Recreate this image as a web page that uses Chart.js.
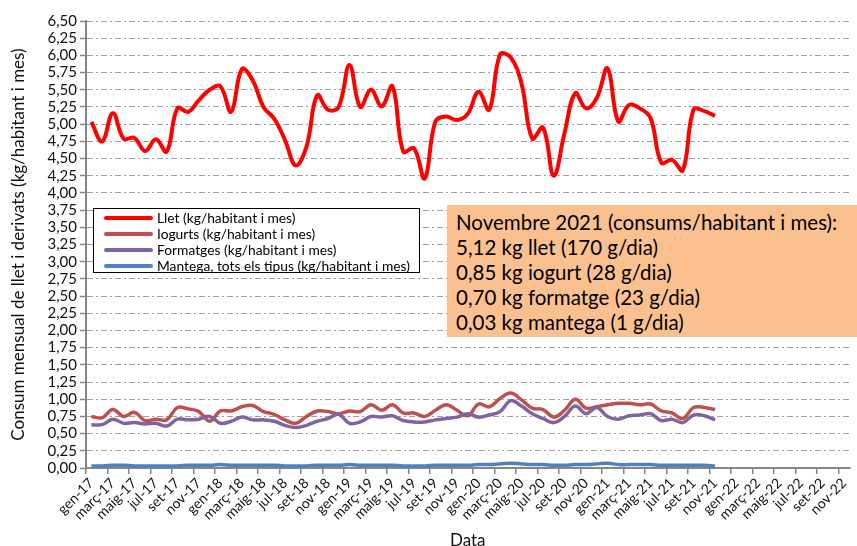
<!DOCTYPE html>
<html>
<head>
<meta charset="utf-8">
<script src="https://cdn.jsdelivr.net/npm/chart.js@4.4.1/dist/chart.umd.min.js"></script>
<style>
  html, body { margin: 0; padding: 0; background: #fff; }
  #wrap { position: relative; width: 857px; height: 546px; font-family: Lato, "Open Sans", sans-serif; }
  #legend {
    position: absolute; left: 93px; top: 208px; width: 325px; height: 62px;
    border: 1px solid #000; background: #fff; font-size: 13.8px; color: #000;
    padding-top: 1px; box-sizing: content-box;
  }
  #legend .row { height: 16px; line-height: 16px; display: flex; align-items: center; white-space: nowrap; }
  #legend .swatch { width: 49px; height: 3.5px; margin-left: 10px; margin-right: 4px; border-radius: 2px; flex: none; }
  #note {
    position: absolute; left: 447px; top: 205px; width: 410px; height: 132px;
    background: #FAC090; font-size: 20.5px; color: #000; box-sizing: border-box;
    padding: 5px 0 0 9px; line-height: 25px; white-space: nowrap;
  }
</style>
</head>
<body>
<div id="wrap">
  <canvas id="chart" width="857" height="546"></canvas>
  <div id="legend"></div>
  <div id="note"></div>
</div>
<script>
// months gen-17 .. nov-22
const monthNames = ['gen', 'febr', 'març', 'abr', 'maig', 'juny', 'jul', 'ag', 'set', 'oct', 'nov', 'des'];
const years = ['17', '18', '19', '20', '21', '22'];

const llet = [5.03, 4.75, 5.16, 4.79, 4.80, 4.61, 4.78, 4.60, 5.23, 5.18,
  5.35, 5.50, 5.55, 5.18, 5.80, 5.64, 5.25, 5.08, 4.77, 4.40,
  4.67, 5.42, 5.21, 5.25, 5.86, 5.25, 5.50, 5.26, 5.55, 4.60,
  4.65, 4.21, 5.04, 5.11, 5.06, 5.15, 5.47, 5.21, 6.01, 5.97,
  5.59, 4.79, 4.95, 4.25, 4.87, 5.45, 5.23, 5.38, 5.81, 5.04,
  5.28, 5.23, 5.09, 4.44, 4.48, 4.33, 5.21, 5.19, 5.12];

const iogurts = [0.75, 0.73, 0.85, 0.75, 0.81, 0.69, 0.71, 0.70, 0.88, 0.86,
  0.82, 0.68, 0.83, 0.83, 0.89, 0.91, 0.82, 0.78, 0.70, 0.65,
  0.75, 0.83, 0.82, 0.79, 0.83, 0.82, 0.92, 0.84, 0.92, 0.80,
  0.80, 0.75, 0.84, 0.92, 0.84, 0.76, 0.93, 0.89, 1.01, 1.09,
  0.99, 0.87, 0.85, 0.74, 0.84, 1.00, 0.87, 0.89, 0.92, 0.94,
  0.94, 0.92, 0.93, 0.83, 0.80, 0.72, 0.88, 0.88, 0.85];

const formatges = [0.63, 0.63, 0.71, 0.65, 0.66, 0.64, 0.65, 0.61, 0.71, 0.70,
  0.71, 0.75, 0.65, 0.68, 0.74, 0.70, 0.70, 0.68, 0.62, 0.59,
  0.62, 0.68, 0.72, 0.78, 0.65, 0.67, 0.75, 0.74, 0.76, 0.69,
  0.67, 0.67, 0.70, 0.72, 0.74, 0.79, 0.74, 0.77, 0.82, 0.98,
  0.90, 0.79, 0.72, 0.66, 0.75, 0.90, 0.79, 0.88, 0.75, 0.71,
  0.76, 0.77, 0.79, 0.69, 0.71, 0.66, 0.77, 0.76, 0.70];

const mantega = [0.03, 0.03, 0.04, 0.04, 0.03, 0.03, 0.03, 0.03, 0.03, 0.04,
  0.04, 0.04, 0.05, 0.04, 0.04, 0.04, 0.04, 0.04, 0.03, 0.03,
  0.03, 0.04, 0.04, 0.04, 0.05, 0.04, 0.04, 0.04, 0.04, 0.03,
  0.03, 0.03, 0.04, 0.04, 0.04, 0.04, 0.05, 0.05, 0.06, 0.07,
  0.06, 0.05, 0.05, 0.04, 0.04, 0.05, 0.05, 0.06, 0.07, 0.05,
  0.05, 0.05, 0.05, 0.04, 0.04, 0.04, 0.04, 0.04, 0.03];

const seriesNames = [
  'Llet (kg/habitant i mes)',
  'Iogurts (kg/habitant i mes)',
  'Formatges (kg/habitant i mes)',
  'Mantega, tots els tipus (kg/habitant i mes)'
];
const seriesColors = ['#FF0000', '#C0504D', '#8064A2', '#4F81BD'];

const noteLines = [
  'Novembre 2021 (consums/habitant i mes):',
  '5,12 kg llet (170 g/dia)',
  '0,85 kg iogurt (28 g/dia)',
  '0,70 kg formatge (23 g/dia)',
  '0,03 kg mantega (1 g/dia)'
];

// build labels, last one nov-22
const labels = [];
for (const y of years) {
  for (const m of monthNames) labels.push(`${m}-${y}`);
}
labels.pop(); // no des-22

const fmt = v => Number(v).toFixed(2).replace('.', ',');

const mkSet = (i, data, width) => ({
  label: seriesNames[i],
  data,
  borderColor: seriesColors[i],
  backgroundColor: seriesColors[i],
  borderWidth: width,
  pointRadius: 0,
  tension: 0.4,
  fill: false
});

new Chart(document.getElementById('chart'), {
  type: 'line',
  data: {
    labels,
    datasets: [
      mkSet(3, mantega, 3.5),
      mkSet(2, formatges, 3.5),
      mkSet(1, iogurts, 3.5),
      mkSet(0, llet, 4)
    ]
  },
  options: {
    responsive: false,
    animation: false,
    devicePixelRatio: 1,
    layout: { padding: { top: 21, right: 3, left: 0, bottom: 0 } },
    plugins: { legend: { display: false }, tooltip: { enabled: false } },
    scales: {
      x: {
        type: 'category',
        offset: true,
        afterFit: s => { s.height = 78; },
        grid: {
          offset: true,
          drawOnChartArea: false,
          drawTicks: true,
          tickLength: 6,
          lineWidth: 1.5,
          color: ctx => (ctx.index % 2 === 0 ? '#868686' : 'rgba(0,0,0,0)')
        },
        border: { display: true, color: '#868686', width: 2 },
        ticks: {
          autoSkip: false,
          maxRotation: 45,
          minRotation: 45,
          padding: 1,
          color: '#111',
          font: { family: 'Lato', size: 14 },
          callback: (v, i) => (i % 2 === 0 ? labels[i] : '')
        },
        title: {
          display: true,
          text: 'Data',
          color: '#111',
          font: { family: 'Lato', size: 17 },
          padding: { top: 0, bottom: -5 }
        }
      },
      y: {
        min: 0,
        max: 6.5,
        afterFit: s => { s.width = 86; },
        grid: {
          color: '#A0A0A0',
          lineWidth: 1,
          tickLength: 6,
          tickColor: '#868686',
          tickBorderDash: [],
          tickWidth: 1.5
        },
        border: { display: true, color: '#868686', width: 2, dash: [6, 3, 2, 3] },
        ticks: {
          stepSize: 0.25,
          autoSkip: false,
          padding: 3,
          color: '#111',
          font: { family: 'Lato', size: 15 },
          callback: v => fmt(v)
        },
        title: {
          display: true,
          text: 'Consum mensual de llet i derivats (kg/habitant i mes)',
          color: '#111',
          font: { family: 'Lato', size: 17 },
          padding: { top: 8, bottom: 0 }
        }
      }
    }
  }
});

// legend box inside plot
const legendEl = document.getElementById('legend');
seriesNames.forEach((name, i) => {
  const row = document.createElement('div');
  row.className = 'row';
  row.innerHTML = `<span class="swatch" style="background:${seriesColors[i]}"></span><span>${name}</span>`;
  legendEl.appendChild(row);
});

// note box
document.getElementById('note').innerHTML = noteLines.map(t => `<div>${t}</div>`).join('');
</script>
</body>
</html>
